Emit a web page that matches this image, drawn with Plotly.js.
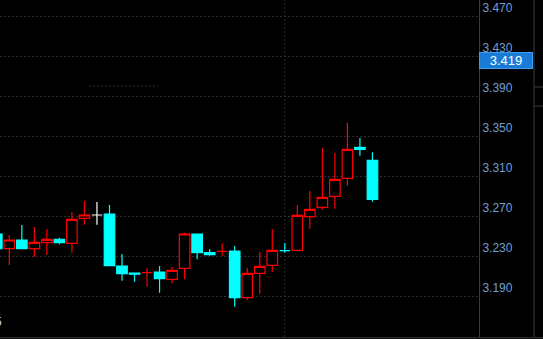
<!DOCTYPE html>
<html>
<head>
<meta charset="utf-8">
<script src="https://cdn.plot.ly/plotly-3.0.1.min.js"></script>
<style>
html,body{margin:0;padding:0;background:#000;}
#chart{width:543px;height:339px;}
</style>
</head>
<body>
<div id="chart"></div>
<script>
// ---- data ----
const idx   = [0,1,2,3,4,5,6,7,8,9,10,11,12,13,14,15,16,17,18,19,20,21,22,23,24,25,26,27,28,29,30];
const open  = [3.252,3.2373,3.246,3.2373,3.2433,3.2467,3.2427,3.2677,3.271,3.272,3.220,3.2128,3.2133,3.214,3.2067,3.2177,3.252,3.2333,3.2347,3.235,3.1883,3.2127,3.2207,3.2353,3.2357,3.2693,3.2787,3.2897,3.3077,3.3387,3.3257];
const high  = [3.253,3.251,3.261,3.259,3.257,3.2483,3.274,3.285,3.284,3.281,3.232,3.2128,3.2183,3.220,3.219,3.2533,3.252,3.237,3.2427,3.240,3.2183,3.234,3.257,3.243,3.2807,3.295,3.3377,3.333,3.3633,3.348,3.3337];
const low   = [3.236,3.221,3.2373,3.2293,3.231,3.2417,3.2333,3.2613,3.2613,3.2203,3.2053,3.2043,3.1993,3.1933,3.2027,3.2067,3.2267,3.2303,3.2303,3.1793,3.186,3.1923,3.2143,3.2333,3.2357,3.2573,3.2763,3.2773,3.3003,3.3303,3.2843];
const close = [3.2373,3.246,3.2373,3.2437,3.2467,3.2433,3.2667,3.271,3.271,3.2203,3.2123,3.2118,3.2133,3.2073,3.2157,3.252,3.2333,3.2313,3.2347,3.1883,3.2127,3.2197,3.2357,3.2353,3.2707,3.2767,3.2887,3.3067,3.3367,3.3367,3.2867];
const yTicks  = [3.19,3.23,3.27,3.31,3.35,3.39,3.43,3.47];
const yLabels = ["3.190","3.230","3.270","3.310","3.350","3.390","3.430","3.470"];
const lastPrice = 3.419;
const lastPriceLabel = "3.419";
const sessionBreak = 23;
const cornerLabel = "5";

// ---- classify candles ----
function group(kind){
  const g={x:[],open:[],high:[],low:[],close:[]};
  idx.forEach((x,i)=>{
    let k;
    if(close[i]>open[i]) k='up';
    else if(close[i]<open[i]) k='down';
    else {
      const pc = i>0 ? close[i-1] : close[i];
      k = close[i]>pc ? 'up' : (close[i]<pc ? 'down' : 'flat');
      if(k!=='flat') k = 'doji_'+k;
    }
    const match = (kind===k) || (kind==='up' && k==='doji_up') || (kind==='downdoji' && k==='doji_down');
    if(match){g.x.push(x);g.open.push(open[i]);g.high.push(high[i]);g.low.push(low[i]);g.close.push(close[i]);}
  });
  return g;
}
function trace(g, line, fill){
  const st={line:{color:line,width:1.2},fillcolor:fill};
  return {type:'candlestick',x:g.x,open:g.open,high:g.high,low:g.low,close:g.close,
    increasing:st,decreasing:st,whiskerwidth:0,hoverinfo:'skip',showlegend:false};
}
const data=[
  trace(group('up'),'#ff0000','#000000'),
  trace(group('down'),'#00ffff','#00ffff'),
  trace(group('downdoji'),'#00ffff','#00ffff'),
  trace(group('flat'),'#ffffff','#ffffff')
];

const gridC='#2e2e3a';
const edgeC='#3a3a3a';
const layout={
  width:543,height:339,
  paper_bgcolor:'#000000',plot_bgcolor:'#000000',
  margin:{l:0,r:64,t:0,b:2,pad:0},
  showlegend:false,
  boxgap:0.16,boxgroupgap:0,
  xaxis:{range:[0.256,38.51],showgrid:false,zeroline:false,showticklabels:false,ticks:'',
    rangeslider:{visible:false},showline:false,fixedrange:true},
  yaxis:{side:'right',range:[3.149,3.486],tickvals:yTicks,ticktext:yLabels,
    ticklabelposition:'outside top',ticks:'',ticklen:0,
    tickfont:{family:'Liberation Sans, Arial, sans-serif',size:12,color:'#6f9fd8'},
    showgrid:true,gridcolor:gridC,griddash:'2px,2px',gridwidth:1,zeroline:false,
    showline:true,linecolor:edgeC,linewidth:1,fixedrange:true},
  shapes:[
    {type:'line',xref:'x',yref:'paper',x0:sessionBreak,x1:sessionBreak,y0:0,y1:1,
      line:{color:gridC,width:1,dash:'2px,2px'},layer:'between'},
    {type:'rect',xref:'paper',yref:'y',x0:87/479,x1:160/479,y0:3.3885,y1:3.3915,
      fillcolor:'#000000',line:{width:0},layer:'between'},
    {type:'line',xref:'paper',yref:'y',x0:89/479,x1:158/479,y0:3.400,y1:3.400,
      line:{color:gridC,width:1,dash:'2px,2px'},layer:'between'},
    {type:'line',xref:'paper',yref:'paper',x0:0,x1:543/479,y0:-0.002,y1:-0.002,
      line:{color:edgeC,width:1}},
    {type:'line',xref:'paper',yref:'paper',x0:534/479,x1:534/479,y0:0,y1:1,
      line:{color:edgeC,width:1}},
    {type:'line',xref:'paper',yref:'paper',x0:534/479,x1:543/479,y0:1-87/337,y1:1-87/337,
      line:{color:edgeC,width:1}},
    {type:'line',xref:'paper',yref:'paper',x0:534/479,x1:543/479,y0:1-106/337,y1:1-106/337,
      line:{color:edgeC,width:1}}
  ],
  annotations:[
    {xref:'paper',yref:'y',x:1,y:lastPrice,xanchor:'left',yanchor:'middle',yshift:7,
      text:lastPriceLabel,showarrow:false,align:'center',width:52,height:15,
      bgcolor:'#1a7bd6',bordercolor:'#3c9cf2',borderwidth:1,borderpad:0,
      font:{family:'Liberation Sans, Arial, sans-serif',size:13,color:'#ffffff'}},
    {xref:'paper',yref:'paper',x:4/479,y:1-322/337,xanchor:'right',yanchor:'middle',
      text:cornerLabel,showarrow:false,
      font:{family:'Liberation Sans, Arial, sans-serif',size:12,color:'#c8d8f0'}}
  ]
};
Plotly.newPlot('chart',data,layout,{displayModeBar:false,staticPlot:true});
</script>
</body>
</html>
